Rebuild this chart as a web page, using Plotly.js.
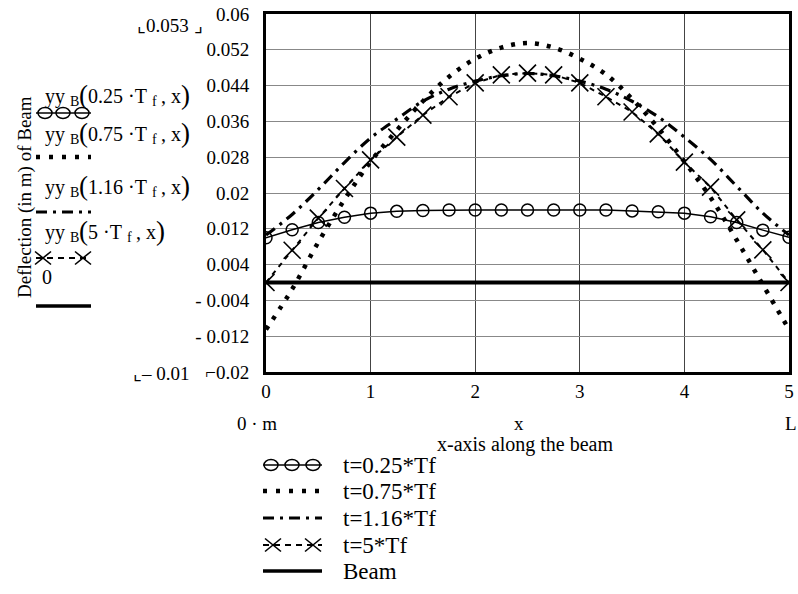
<!DOCTYPE html>
<html><head><meta charset="utf-8">
<script src="https://cdn.plot.ly/plotly-3.0.1.min.js"></script>
<style>html,body{margin:0;padding:0;background:#fff}</style>
</head><body>
<div id="chart" style="width:798px;height:594px"></div>
<script>
// ---- data ----
const xPos = [0,0.25,0.5,0.75,1,1.25,1.5,1.75,2,2.25,2.5,2.75,3,3.25,3.5,3.75,4,4.25,4.5,4.75,5];
const yT025 = [0.0100,0.0118,0.0134,0.0146,0.0155,0.0159,0.0161,0.0162,0.0162,0.0162,0.0162,0.0162,0.0162,0.0162,0.0160,0.0158,0.0155,0.0147,0.0134,0.0117,0.0101];
const yT075 = [-0.0105,-0.0015,0.0090,0.0185,0.0270,0.0340,0.0405,0.0460,0.0500,0.0525,0.0535,0.0525,0.0500,0.0465,0.0410,0.0345,0.0270,0.0190,0.0095,-0.0005,-0.0105];
const yT116 = [0.0106,0.0152,0.0208,0.0268,0.0323,0.0365,0.0405,0.0432,0.0450,0.0462,0.0467,0.0462,0.0450,0.0432,0.0405,0.0370,0.0325,0.0275,0.0215,0.0155,0.0106];
const yT5   = [0.0000,0.0072,0.0144,0.0210,0.0274,0.0325,0.0374,0.0415,0.0446,0.0464,0.0468,0.0464,0.0446,0.0415,0.0381,0.0332,0.0269,0.0213,0.0140,0.0073,0.0000];
const yBeam = [0,0,0,0,0,0,0,0,0,0,0,0,0,0,0,0,0,0,0,0,0];
const seriesNames = ["t=0.25*Tf","t=0.75*Tf","t=1.16*Tf","t=5*Tf","Beam"];
const timeFactors = ["0.25","0.75","1.16","5"];   // yy_B(k·T_f, x)
const yTickVals = [-0.02,-0.012,-0.004,0.004,0.012,0.02,0.028,0.036,0.044,0.052,0.06];
const yTickText = ["⌐0.02","- 0.012","- 0.004","0.004","0.012","0.02","0.028","0.036","0.044","0.052","0.06"];
const xTickVals = [0,1,2,3,4,5];
const xTickText = ["0","1","2","3","4","5"];

// ---- layout geometry (pixels) ----
const W = 798, H = 594;
const M = {l:266, r:9, t:14, b:222};
const PW = W - M.l - M.r, PH = H - M.t - M.b;
const P = px => (px - M.l) / PW;      // pixel x -> paper x
const Q = py => (H - M.b - py) / PH;  // pixel y -> paper y
const FONT = "Liberation Serif, Times New Roman, serif";
// Times advance widths (em) for measuring label pieces
const EM = {"0":.5,"1":.5,"2":.5,"3":.5,"4":.5,"5":.5,"6":.5,"7":.5,"8":.5,"9":.5,".":.25," ":.25,"·":.25,
            "T":.611,",":.25,"x":.5,"y":.5,"B":.667,"f":.333,"(":.333,")":.333};
const tw = (s, size) => [...s].reduce((a, c) => a + (EM[c] || .5), 0) * size;

const traces = [
  {x:xPos, y:yT025, name:seriesNames[0], mode:"lines+markers",
   line:{color:"#000", width:1.5},
   marker:{symbol:"circle-open", size:12, color:"#000", line:{width:1.5, color:"#000"}}},
  {x:xPos, y:yT075, name:seriesNames[1], mode:"lines", line:{color:"#000", width:4.5, dash:"4px,8px", shape:"spline"}},
  {x:xPos, y:yT116, name:seriesNames[2], mode:"lines", line:{color:"#000", width:3.2, dash:"11px,6px,3px,6px", shape:"spline"}},
  {x:xPos, y:yT5, name:seriesNames[3], mode:"lines+markers",
   line:{color:"#000", width:2, dash:"5px,5px"},
   marker:{symbol:"x-thin-open", size:17, color:"#000", line:{width:1.6, color:"#000"}}},
  {x:xPos, y:yBeam, name:seriesNames[4], mode:"lines", line:{color:"#000", width:4}}
];

const shapes = [];
const ann = [];
const txt = (x, y, t, xa, size, angle) => ann.push({xref:"paper", yref:"paper", x:P(x), y:Q(y), xanchor:xa, yanchor:"middle",
  text:t, showarrow:false, textangle:angle||0, font:{family:FONT, size:size, color:"#000"}});
function hline(x0, x1, y, w, dash) {
  shapes.push({type:"line", xref:"paper", yref:"paper", x0:P(x0), x1:P(x1), y0:Q(y), y1:Q(y),
    line:{color:"#000", width:w, dash:dash||"solid"}});
}
function ell(cx, cy, rx, ry) {
  shapes.push({type:"circle", xref:"paper", yref:"paper", x0:P(cx-rx), x1:P(cx+rx), y0:Q(cy+ry), y1:Q(cy-ry),
    line:{color:"#000", width:1.5}});
}
function cross(cx, cy, hx, hy) {
  shapes.push({type:"line", xref:"paper", yref:"paper", x0:P(cx-hx), x1:P(cx+hx), y0:Q(cy+hy), y1:Q(cy-hy), line:{color:"#000", width:1.6}});
  shapes.push({type:"line", xref:"paper", yref:"paper", x0:P(cx-hx), x1:P(cx+hx), y0:Q(cy-hy), y1:Q(cy+hy), line:{color:"#000", width:1.6}});
}
function sampleSet(x0, x1, rows, circleXs, crossXs) {
  hline(x0, x1, rows[0], 1.5);
  circleXs.forEach(c => ell(c, rows[0], 7, 5.5));
  hline(x0, x1, rows[1], 4.5, "4px,9px");
  hline(x0, x1, rows[2], 3.2, "11px,6px,3px,6px");
  hline(x0, x1, rows[3], 2, "6px,5px");
  crossXs.forEach(c => cross(c, rows[3], 8, 6.5));
  hline(x0, x1, rows[4], 3.5);
}
// left-hand Mathcad legend: yy_B(k·T_f, x) built piece by piece
const leftRows = [113, 157, 212, 258, 306];
sampleSet(36, 91, leftRows, [45, 63, 82], [43, 83]);
const leftTextRows = [96, 134, 187, 232];
const FS = 20, SUB = 14, PAR = 27;
timeFactors.forEach((k, i) => {
  const y = leftTextRows[i];
  let x = 43;
  txt(x, y, "yy", "left", FS); x += tw("yy", FS) + 5;
  txt(x, y + 5, "B", "left", SUB); x += tw("B", SUB);
  txt(x, y - 1, "(", "left", PAR); x += tw("(", PAR);
  const body = k + " ·T";
  txt(x, y, body, "left", FS); x += tw(body, FS) + 6;
  txt(x, y + 5, "f", "left", SUB); x += tw("f", SUB) + 5;
  txt(x, y, ", x", "left", FS); x += tw(", x", FS);
  txt(x, y - 1, ")", "left", PAR);
});
txt(40, 277, "0", "left", FS);

// bottom legend
const botRows = [465, 491, 518, 545, 571];
sampleSet(263, 322, botRows, [271, 292, 313], [273, 313]);
seriesNames.forEach((t, i) => txt(341, botRows[i], t, "left", 23));

// other texts
txt(25, 197, "Deflection (in m) of Beam", "center", 19, -90);
txt(170, 25, "⌞0.053 ⌟", "center", 19);
txt(192, 373, "⌞– 0.01", "right", 19);
txt(257, 423, "0 · m", "center", 19);
txt(519, 423, "x", "center", 19);
txt(791, 423, "L", "center", 19);
txt(525, 444, "x-axis along the beam", "center", 20);

const layout = {
  width:W, height:H, margin:M, showlegend:false,
  paper_bgcolor:"#fff", plot_bgcolor:"#fff",
  font:{family:FONT, size:19, color:"#000"},
  xaxis:{range:[0,5], tickvals:xTickVals, ticktext:xTickText, ticks:"", showgrid:true, gridcolor:"#444", gridwidth:1,
    zeroline:false, showline:true, mirror:true, linecolor:"#000", linewidth:3, tickfont:{family:FONT, size:19},
    ticklabelstandoff:0},
  yaxis:{range:[-0.02,0.06], tickvals:yTickVals, ticktext:yTickText, ticks:"", showgrid:true, gridcolor:"#888", gridwidth:1,
    zeroline:false, showline:true, mirror:true, linecolor:"#000", linewidth:3, tickfont:{family:FONT, size:19},
    ticklabelstandoff:10},
  shapes:shapes, annotations:ann
};
Plotly.newPlot("chart", traces, layout, {displayModeBar:false, staticPlot:true});
</script>
</body></html>
